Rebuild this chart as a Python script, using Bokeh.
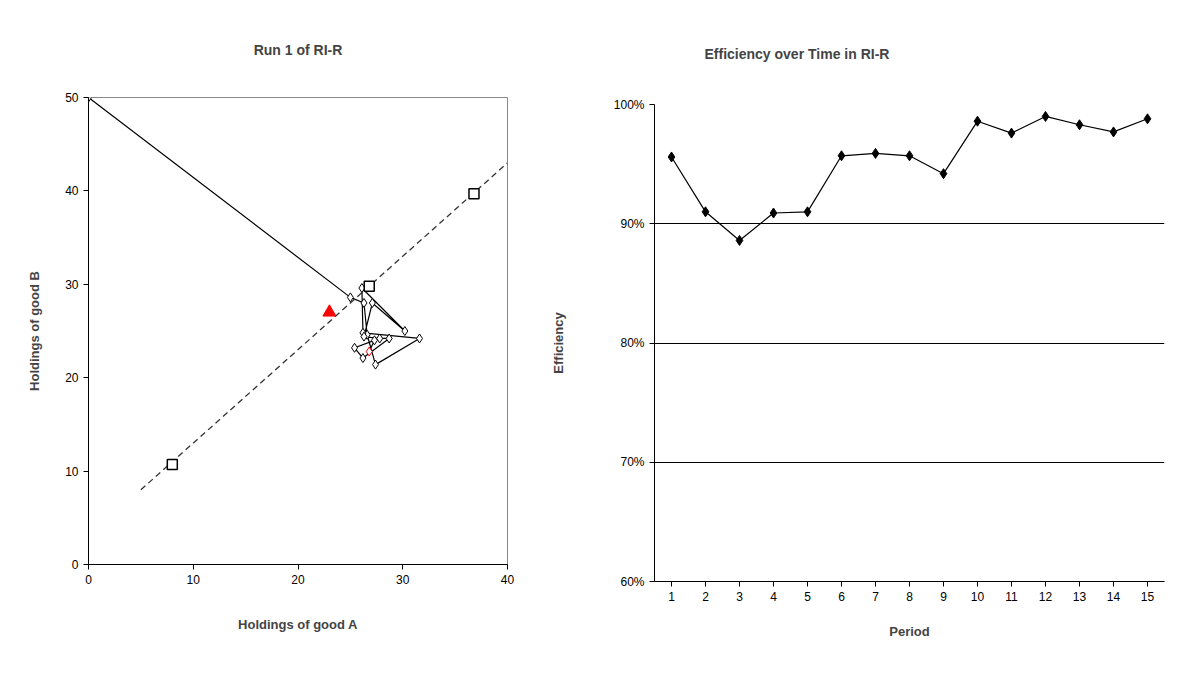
from bokeh.plotting import figure
from bokeh.layouts import row, column
from bokeh.models import FixedTicker, NumeralTickFormatter, Spacer
from bokeh.embed import file_html
from bokeh.resources import INLINE

path_a = [0, 25.0, 26.3, 26.6, 27.4, 31.6, 26.2, 26.1, 30.2, 27.1, 26.3, 27.8, 28.7, 26.2, 25.4, 27.3, 26.8]
path_b = [50, 28.6, 28.0, 24.6, 21.4, 24.2, 24.8, 29.6, 25.0, 28.0, 24.4, 24.2, 24.2, 22.1, 23.2, 24.0, 22.8]
sq_a = [8, 26.8, 36.8]
sq_b = [10.7, 29.8, 39.7]
diag_a = [5, 40]
diag_b = [8, 43]
tri_a = [23]
tri_b = [27]

periods = list(range(1, 16))
eff = [0.956, 0.910, 0.886, 0.909, 0.910, 0.957, 0.959, 0.957, 0.942, 0.986, 0.976, 0.990, 0.983, 0.977, 0.988]

FONT = "Arial"

def style(p):
    p.title.text_font = FONT
    p.title.text_font_size = "14px"
    p.title.text_font_style = "bold"
    for ax in p.axis:
        ax.axis_label_text_font = FONT
        ax.axis_label_text_font_size = "13px"
        ax.axis_label_text_font_style = "bold"
        ax.major_label_text_font = FONT
        ax.major_label_text_font_size = "12px"
        ax.major_label_text_color = "black"
        ax.minor_tick_line_color = None
        ax.major_tick_in = 0
        ax.major_tick_out = 5
        ax.axis_label_standoff = 20
    p.border_fill_color = "white"

p1 = figure(frame_width=419, frame_height=467, x_range=(0, 40), y_range=(0, 50),
            title="Run 1 of RI-R", output_backend="svg", toolbar_location=None,
            x_axis_label="Holdings of good A", y_axis_label="Holdings of good B")
p1.xaxis.ticker = FixedTicker(ticks=[0, 10, 20, 30, 40])
p1.yaxis.ticker = FixedTicker(ticks=[0, 10, 20, 30, 40, 50])
p1.grid.visible = False
p1.line(diag_a, diag_b, line_color="#333333", line_dash="6 4", line_width=1.3)
p1.line(path_a, path_b, line_color="black", line_width=1.2)
p1.scatter(path_a[:-1], path_b[:-1], marker="diamond", size=9, fill_color="white", line_color="black")
p1.scatter(path_a[-1:], path_b[-1:], marker="diamond", size=9, fill_color="white", line_color="red")
p1.scatter(sq_a, sq_b, marker="square", size=10, fill_color="white", line_color="black", line_width=1.5)
p1.scatter(tri_a, tri_b, marker="triangle", size=13, fill_color="red", line_color="red")
style(p1)
p1.title.align = "center"
p1.title.standoff = 79
p1.outline_line_color = "#888888"
p1.xaxis.axis_label_standoff = 30
p1.min_border_left = 88
p1.min_border_right = 28
p1.min_border_top = 89
p1.min_border_bottom = 80

p2 = figure(frame_width=510, frame_height=477, x_range=(0.5, 15.5), y_range=(0.6, 1.0),
            title="Efficiency over Time in RI-R", output_backend="svg", toolbar_location=None,
            x_axis_label="Period", y_axis_label="Efficiency")
p2.xaxis.ticker = FixedTicker(ticks=periods)
p2.yaxis.ticker = FixedTicker(ticks=[0.6, 0.7, 0.8, 0.9, 1.0])
p2.yaxis.formatter = NumeralTickFormatter(format="0%")
p2.xgrid.visible = False
p2.ygrid.grid_line_color = "black"
p2.ygrid.grid_line_alpha = 1
p2.line(periods, eff, line_color="black", line_width=1.2)
p2.scatter(periods, eff, marker="diamond", size=10, fill_color="black", line_color="black")
style(p2)
p2.title.align = "left"
p2.title.offset = 50
p2.title.standoff = 85
p2.outline_line_color = None
p2.yaxis.axis_label_standoff = 45
p2.min_border_left = 119
p2.min_border_right = 11
p2.min_border_top = 97
p2.min_border_bottom = 60

layout = row(p1, column(Spacer(height=1), p2))
open("out.html", "w").write(file_html(layout, INLINE))
